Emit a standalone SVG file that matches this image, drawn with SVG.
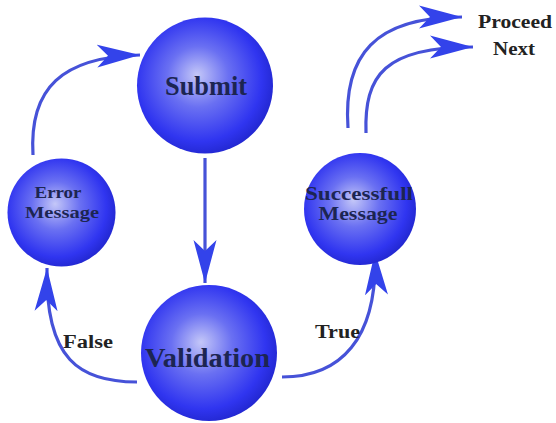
<svg xmlns="http://www.w3.org/2000/svg" width="556" height="423" viewBox="0 0 556 423">
<defs>
<radialGradient id="ball" cx="0.46" cy="0.46" r="0.56" fx="0.44" fy="0.42">
<stop offset="0" stop-color="#c4c7f8"/>
<stop offset="0.4" stop-color="#6a70f2"/>
<stop offset="0.82" stop-color="#3035f0"/>
<stop offset="1" stop-color="#2227d0"/>
</radialGradient>
<marker id="ah" markerUnits="userSpaceOnUse" markerWidth="46" markerHeight="26" refX="43" refY="12" orient="auto">
<path d="M0,0.5 L43,12 L0,23.5 L11,12 Z" fill="#3343ea"/>
</marker>
<style>
.big{font-family:"Liberation Serif","Times New Roman",serif;font-weight:bold;fill:#1c2552;text-anchor:middle}
.small{font-family:"Liberation Serif","Times New Roman",serif;font-weight:bold;fill:#1c2552;text-anchor:middle}
.lbl{font-family:"Liberation Serif","Times New Roman",serif;font-size:18px;font-weight:bold;fill:#222}
.node circle{fill:url(#ball)}
.conn path{fill:none;stroke:#4652d8;stroke-width:3.2;marker-end:url(#ah)}
</style>
</defs>
<rect width="556" height="423" fill="#fff"/>
<g class="conn" id="connectors">
<path d="M205,158 L205,283"/>
<path d="M33,155 C29,88 62,57 140,55"/>
<path d="M137,382 C80,382 45,360 47,268"/>
<path d="M282,377 C340,377 378,340 375,252"/>
<path d="M348,128 C343,55 375,17 462,17"/>
<path d="M366,133 C364,75 385,47 473,47"/>
</g>
<g id="submit" class="node"><circle cx="205" cy="85.5" r="68"/><text class="big" x="206" y="95" font-size="28" textLength="82" lengthAdjust="spacingAndGlyphs">Submit</text></g>
<g id="error" class="node"><circle cx="61.5" cy="212.5" r="54"/><text class="small" x="58" y="198" font-size="16.5" textLength="47" lengthAdjust="spacingAndGlyphs">Error</text><text class="small" x="62" y="218" font-size="16.5" textLength="74" lengthAdjust="spacingAndGlyphs">Message</text></g>
<g id="validation" class="node"><circle cx="209" cy="353" r="68"/><text class="big" x="207.5" y="367" font-size="27" textLength="125" lengthAdjust="spacingAndGlyphs">Validation</text></g>
<g id="success" class="node"><circle cx="360" cy="209" r="56"/><text class="small" x="359" y="200" font-size="19" textLength="108" lengthAdjust="spacingAndGlyphs">Successfull</text><text class="small" x="358" y="220" font-size="19" textLength="79" lengthAdjust="spacingAndGlyphs">Message</text></g>
<text class="lbl" x="63" y="348" textLength="50" lengthAdjust="spacingAndGlyphs">False</text>
<text class="lbl" x="315" y="338" textLength="45" lengthAdjust="spacingAndGlyphs">True</text>
<text class="lbl" x="478" y="28" font-size="19" textLength="74" lengthAdjust="spacingAndGlyphs">Proceed</text>
<text class="lbl" x="493" y="55" font-size="19" textLength="42" lengthAdjust="spacingAndGlyphs">Next</text>
</svg>
